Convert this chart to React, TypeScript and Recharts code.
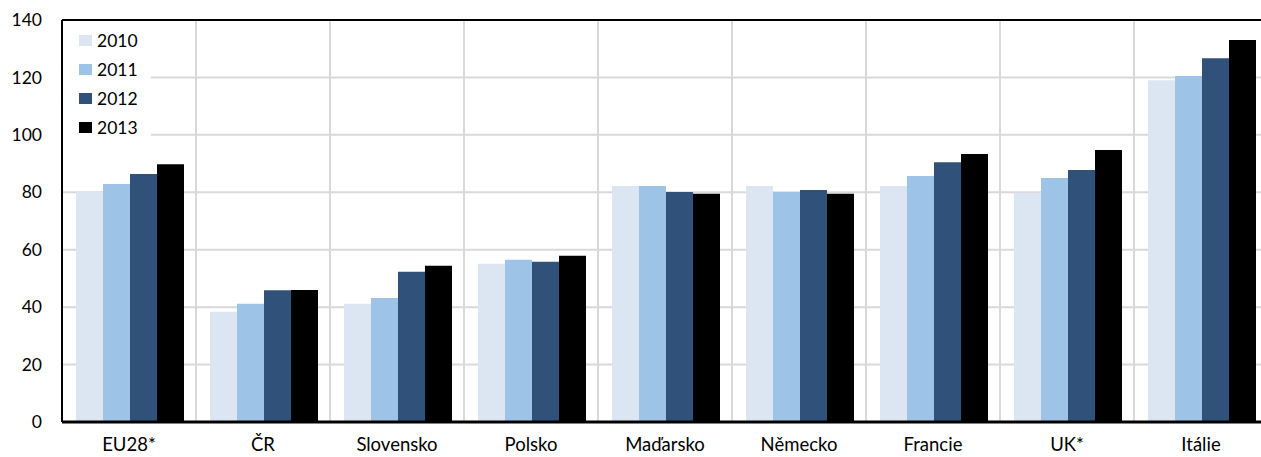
import React from 'react';
import { BarChart, Bar, XAxis, YAxis, CartesianGrid, Legend, ReferenceLine } from 'recharts';

const categories = ['EU28*', 'ČR', 'Slovensko', 'Polsko', 'Maďarsko', 'Německo', 'Francie', 'UK*', 'Itálie'];
const years = ['2010', '2011', '2012', '2013'];
const v2010 = [80.1, 38.4, 41.2, 55.1, 82.2, 82.2, 82.2, 79.8, 119.0];
const v2011 = [82.9, 41.2, 43.2, 56.5, 82.2, 80.1, 85.7, 85.0, 120.5];
const v2012 = [86.4, 45.9, 52.3, 55.8, 80.1, 80.8, 90.5, 87.8, 126.7];
const v2013 = [89.8, 46.0, 54.4, 57.9, 79.5, 79.5, 93.3, 94.7, 133.0];
const yTicks = [0, 20, 40, 60, 80, 100, 120, 140];

const COLORS = ['#DCE6F2', '#9DC3E6', '#30527A', '#000000'];
const FONT = 'Lato, sans-serif';

const data = categories.map((name, i) => ({
  name,
  '2010': v2010[i],
  '2011': v2011[i],
  '2012': v2012[i],
  '2013': v2013[i],
}));

// grid lines sit on the category boundaries, not on the tick centres
const boundaryLines = ({ offset }: any) => {
  const step = offset.width / categories.length;
  return categories.map((_, i) => offset.left + step * (i + 1)).slice(0, -1);
};

const LegendBox = () => (
  <div style={{ background: 'white', width: 88, padding: '5px 0 8px 0', fontFamily: FONT, fontSize: 17.5 }}>
    {years.map((y, i) => (
      <div key={y} style={{ display: 'flex', alignItems: 'center', height: 29 }}>
        <span style={{ display: 'inline-block', width: 13, height: 11, background: COLORS[i], marginLeft: 16, marginRight: 5 }} />
        <span style={{ color: '#000' }}>{y}</span>
      </div>
    ))}
  </div>
);

export default function App() {
  return (
    <div style={{ position: 'absolute', left: 0, top: 0, width: 1261, height: 457, overflow: 'hidden', background: 'white' }}>
      <BarChart
        width={1280}
        height={457}
        data={data}
        margin={{ top: 20, right: 12, bottom: 0, left: 0 }}
        barCategoryGap={14}
        barGap={0}
      >
        <CartesianGrid stroke="#D9D9D9" strokeWidth={2} verticalCoordinatesGenerator={boundaryLines} />
        <XAxis
          dataKey="name"
          height={35}
          tickLine={false}
          axisLine={{ stroke: '#000', strokeWidth: 3 }}
          tick={{ fill: '#000', fontFamily: FONT, fontSize: 18.5 }}
          tickMargin={10}
          interval={0}
        />
        <YAxis
          domain={[0, 140]}
          ticks={yTicks}
          width={62}
          tickLine={false}
          axisLine={{ stroke: '#000', strokeWidth: 2 }}
          tick={{ fill: '#000', fontFamily: FONT, fontSize: 17.5 }}
          tickMargin={14}
        />
        <ReferenceLine y={140} stroke="#000" strokeWidth={2} />
        {years.map((y, i) => (
          <Bar key={y} dataKey={y} fill={COLORS[i]} isAnimationActive={false} />
        ))}
        <Legend
          layout="vertical"
          verticalAlign="middle"
          align="center"
          content={<LegendBox />}
          wrapperStyle={{ left: 63, top: 21, width: 88 }}
        />
      </BarChart>
    </div>
  );
}
